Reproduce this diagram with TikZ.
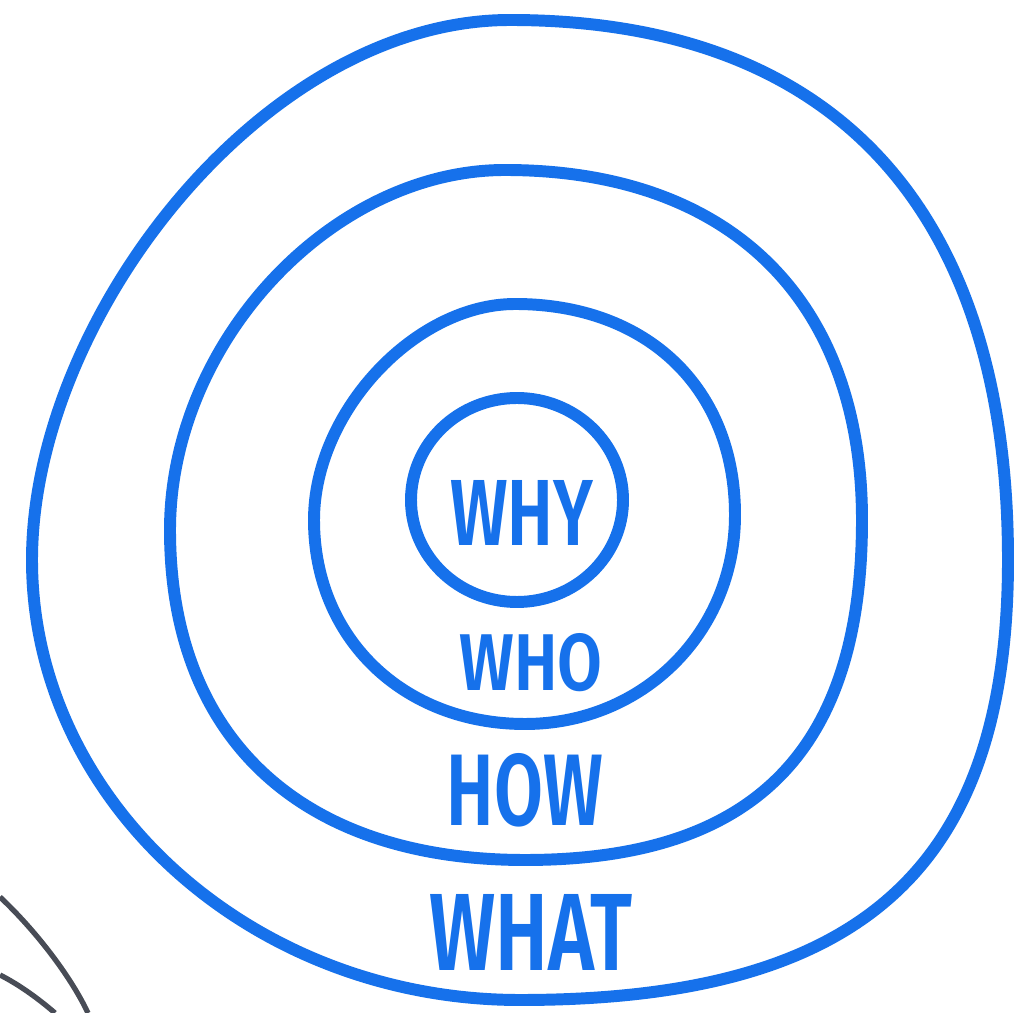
\documentclass[tikz,border=0pt]{standalone}
\usepackage{fontspec}
\setmainfont{Fira Sans}
\newfontfamily\wordfont{Fira Sans SemiBold}
\usepackage{graphicx}
\definecolor{ringblue}{RGB}{22,113,235}
\definecolor{inkgray}{RGB}{72,76,86}

\begin{document}
\begin{tikzpicture}[x=0.01cm, y=-0.01cm,
    ring/.style={draw=ringblue, line width=3.4pt, line join=round},
    word/.style={text=ringblue, font=\wordfont, inner sep=0pt},
    sketch/.style={draw=inkgray, line width=1.5pt}]
    \useasboundingbox[fill=white] (0,0) rectangle (1015,1013);

    % Outer ring
    \draw[ring] (510,20) .. controls (834,20) and (1008,209) .. (1008,560)
        .. controls (1008,868) and (862,1000) .. (520,1000)
        .. controls (252,1000) and (32,802) .. (32,560)
        .. controls (32,320) and (262,20) .. cycle;
    % Second ring
    \draw[ring] (505,170) .. controls (730,170) and (862,300) .. (862,520)
        .. controls (862,751) and (754,860) .. (525,860)
        .. controls (301,860) and (170,738) .. (170,530)
        .. controls (170,343) and (331,170) .. cycle;
    % Third ring
    \draw[ring] (515,304) .. controls (647,304) and (735,388) .. (735,515)
        .. controls (735,632) and (643,724) .. (525,724)
        .. controls (403,724) and (314,638) .. (314,520)
        .. controls (314,412) and (415,304) .. cycle;
    % Inner ring
    \draw[ring] (517,500) ellipse [x radius=106, y radius=102];

    % Labels
    \node[word] (why)  at (522,513) {\resizebox{1.43cm}{0.65cm}{WHY}};
    \node[word] (who)  at (531,663) {\resizebox{1.43cm}{0.57cm}{WHO}};
    \node[word] (how)  at (525,790) {\resizebox{1.56cm}{0.72cm}{HOW}};
    \node[word] (what) at (531,932) {\resizebox{2.03cm}{0.76cm}{WHAT}};

    % Grey strokes in the corner
    \draw[sketch] (0,897) .. controls (35,930) and (70,975) .. (88,1013);
    \draw[sketch] (0,975) .. controls (20,985) and (40,1000) .. (55,1013);
\end{tikzpicture}
\end{document}
